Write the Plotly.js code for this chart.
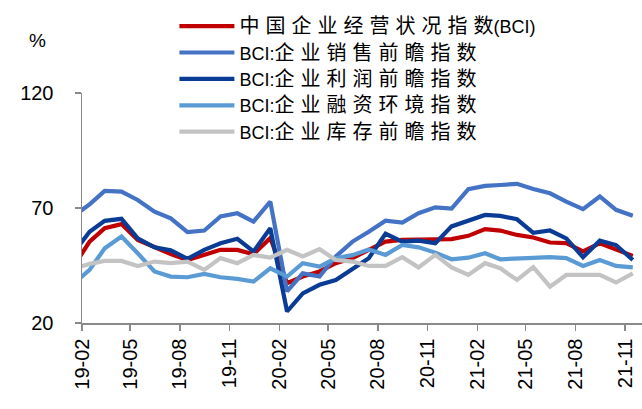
<!DOCTYPE html>
<html>
<head>
<meta charset="utf-8">
<script src="https://cdn.plot.ly/plotly-3.0.1.min.js"></script>
<style>
html,body{margin:0;padding:0;background:#fff;}
#chart{width:642px;height:409px;}
</style>
</head>
<body>
<div id="chart"></div>
<script>
// Monthly observations (Jan 2019 - Nov 2021)
const months = [
  "2019-01","2019-02","2019-03","2019-04","2019-05","2019-06","2019-07","2019-08","2019-09","2019-10","2019-11","2019-12",
  "2020-01","2020-02","2020-03","2020-04","2020-05","2020-06","2020-07","2020-08","2020-09","2020-10","2020-11","2020-12",
  "2021-01","2021-02","2021-03","2021-04","2021-05","2021-06","2021-07","2021-08","2021-09","2021-10","2021-11"
];
const bci = [44.0,55.4,61.2,63.0,56.1,52.9,50.0,47.4,49.6,51.8,51.8,49.9,
  57.0,37.3,40.2,42.4,46.0,48.2,51.8,55.4,56.1,56.1,56.4,56.5,
  57.9,60.8,60.2,58.3,57.2,55.0,54.7,51.1,54.7,51.8,49.2];
const sales = [66.2,71.6,77.4,77.1,73.5,68.4,65.5,59.5,60.2,66.3,67.7,64.1,
  72.8,33.7,41.6,40.2,48.9,55.4,59.7,64.5,63.7,67.7,70.3,69.7,
  78.2,79.6,80.0,80.5,78.3,76.4,72.8,69.5,75.0,69.2,66.6];
const profit = [50.1,59.7,64.4,65.3,56.8,52.9,51.6,47.9,51.8,54.7,56.6,51.1,
  61.2,25.0,32.9,36.6,38.7,43.5,48.2,58.8,55.4,55.8,54.7,62.0,
  64.5,67.0,66.6,65.1,59.2,60.2,56.8,48.6,55.8,53.9,47.4];
const financing = [36.7,43.1,52.5,57.6,50.3,42.4,40.2,39.9,41.3,39.9,39.2,38.0,
  43.8,40.2,46.0,44.5,48.2,49.5,52.0,49.6,53.9,52.9,50.6,47.7,
  48.4,50.3,47.7,48.2,48.3,48.6,48.2,44.8,47.4,44.8,44.2];
const inventory = [43.6,45.7,47.0,47.0,44.8,46.7,46.0,46.7,43.1,48.2,46.0,49.6,
  48.4,51.8,48.9,52.1,47.4,46.7,44.8,44.8,48.6,44.2,49.6,44.2,
  40.9,46.0,43.8,38.7,44.3,35.8,40.9,40.9,40.9,37.6,41.6];
const cjk = 'font-size:20px;letter-spacing:6px';
const seriesNames = [
  '<span style="' + cjk + '">中国企业经营状况指</span><span style="font-size:20px">数</span>(BCI)',
  'BCI:<span style="' + cjk + '">企业销售前瞻指</span><span style="font-size:20px">数</span>',
  'BCI:<span style="' + cjk + '">企业利润前瞻指</span><span style="font-size:20px">数</span>',
  'BCI:<span style="' + cjk + '">企业融资环境指</span><span style="font-size:20px">数</span>',
  'BCI:<span style="' + cjk + '">企业库存前瞻指</span><span style="font-size:20px">数</span>'
];
const colors = ['#C00000','#4472C4','#0A3C96','#5B9BD5','#C3C3C3'];
const yTicks = [20,70,120];

const xs = months.map(m => m + '-15');
const allSeries = [bci, sales, profit, financing, inventory];
const traces = allSeries.map((vals, i) => ({
  type: 'scatter', mode: 'lines', x: xs, y: vals, name: seriesNames[i],
  line: {color: colors[i], width: 4.2}, hoverinfo: 'skip'
}));

const font = 'Liberation Sans, Arial, Noto Sans CJK SC, sans-serif';
const layout = {
  width: 642, height: 409,
  margin: {l: 82, r: 0, t: 93, b: 86, pad: 0},
  paper_bgcolor: '#fff', plot_bgcolor: '#fff',
  showlegend: true,
  font: {family: font, color: '#000', size: 18},
  legend: {
    x: 0.165, y: 1.37, xanchor: 'left', yanchor: 'top',
    bgcolor: 'rgba(0,0,0,0)', borderwidth: 0,
    font: {family: font, size: 18, color: '#000'},
    itemwidth: 55, tracegroupgap: 0
  },
  xaxis: {
    type: 'date', range: ['2019-02-01', '2021-12-02'],
    tick0: '2019-02-01', dtick: 'M3', tickformat: '%y-%m',
    tickangle: -90, ticks: 'outside', ticklen: 6, tickcolor: '#898989', tickwidth: 1.5,
    showline: true, linecolor: '#898989', linewidth: 1.5,
    showgrid: false, zeroline: false,
    tickfont: {family: font, size: 20, color: '#000'}
  },
  yaxis: {
    range: [20, 120], tickvals: yTicks, ticktext: yTicks.map(String),
    ticks: 'outside', ticklen: 6, tickcolor: '#898989', tickwidth: 1.5,
    ticklabelstandoff: 17,
    showline: true, linecolor: '#898989', linewidth: 1.5,
    showgrid: false, zeroline: false,
    tickfont: {family: font, size: 20, color: '#000'}
  },
  annotations: [{
    text: '%', xref: 'paper', yref: 'paper', x: -0.079, y: 1.23,
    xanchor: 'center', yanchor: 'middle', showarrow: false,
    font: {family: font, size: 19, color: '#000'}
  }]
};
Plotly.newPlot('chart', traces, layout, {staticPlot: true, displayModeBar: false});
</script>
</body>
</html>
